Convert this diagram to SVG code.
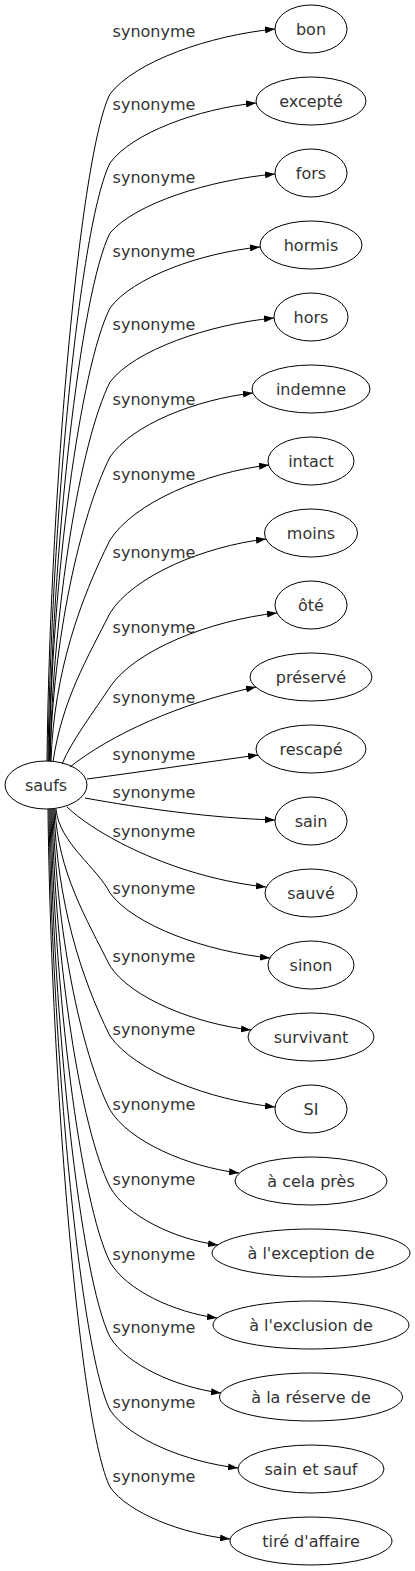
<svg xmlns="http://www.w3.org/2000/svg" width="415" height="1571" viewBox="0 0 415 1571">
<style>
.n ellipse{fill:none;stroke:#000;stroke-width:1}
.n text{font-family:"DejaVu Sans",sans-serif;font-size:16px;fill:#333;text-anchor:middle}
.lb{font-family:"DejaVu Sans",sans-serif;font-size:16px;fill:#333;text-anchor:middle}
#edges path{fill:none;stroke:#000;stroke-width:1;marker-end:url(#ah)}
</style>
<defs>
<marker id="ah" markerWidth="10" markerHeight="7" refX="10" refY="3.5" orient="auto" markerUnits="userSpaceOnUse"><path d="M0,0 L10,3.5 L0,7 z" fill="#000"/></marker>
</defs>
<rect width="415" height="1571" fill="#fff"/>
<g id="edges">
<path d="M47,761 C50,494 80,154 110,94 C135,61.5 209,35.5 275,29"/>
<path d="M48,761 C51,522 80,223 110,163 C132,133 197.6,109 256,103"/>
<path d="M49,761 C52,550 80,293 110,233 C135,203.5 209,180 275,174"/>
<path d="M49,761 C52,580 80,368 110,308 C132.5,277.5 200,253 260,247"/>
<path d="M50,761 C53,609 80,442 110,382 C134.6,350 208.4,324.4 274,318"/>
<path d="M50,761 C53,639 80,517 110,457 C131.5,425 195.8,399.4 253,393"/>
<path d="M51,761 C54,672.6 80,600 110,540 C134,502.5 205.4,472.5 269,465"/>
<path d="M53,762 C62,700 87.6,657.7 110,613 C133.4,576 203.6,546.4 266,539"/>
<path d="M62,764 C72,740 95,710 110,687 C135,650 210,620.4 277,613"/>
<path d="M70,767 C110,735 180,703 256,687"/>
<path d="M87,779 C140,772 200,763 258,755"/>
<path d="M85,798 C140,808 210,818 275,820"/>
<path d="M67,807 C100,838 180,878 266,887"/>
<path d="M56,809 C59,842.6 97.4,867.8 110,893 C134,925.5 206,951.5 270,958"/>
<path d="M55,809 C58,872 86.5,918.9 110,966 C131,998 194.6,1023.6 251,1030"/>
<path d="M54,809 C57,900 80,976 110,1036 C134.75,1071.5 209,1100 275,1107"/>
<path d="M53,809 C56,929 80,1050 110,1110 C129.4,1141.5 187.4,1166.7 239,1173"/>
<path d="M52,809 C55,960 80,1127 110,1187 C126.2,1216 174.8,1239.2 218,1245"/>
<path d="M51,809 C54,990 80,1202 110,1262 C126,1290 174.2,1312.4 217,1318"/>
<path d="M50,809 C53,1020 80,1277 110,1337 C126.7,1365 176.6,1387.4 221,1393"/>
<path d="M49,809 C52,1049 80,1350 110,1410 C129.2,1439 186.8,1462.2 238,1468"/>
<path d="M48,809 C51,1080 80,1427 110,1487 C128,1513 182,1533.8 230,1539"/>
</g>
<g id="labels">
<text class="lb" x="154" y="37">synonyme</text>
<text class="lb" x="154" y="110">synonyme</text>
<text class="lb" x="154" y="183">synonyme</text>
<text class="lb" x="154" y="257">synonyme</text>
<text class="lb" x="154" y="330">synonyme</text>
<text class="lb" x="154" y="405">synonyme</text>
<text class="lb" x="154" y="480">synonyme</text>
<text class="lb" x="154" y="558">synonyme</text>
<text class="lb" x="154" y="633">synonyme</text>
<text class="lb" x="154" y="703">synonyme</text>
<text class="lb" x="154" y="760">synonyme</text>
<text class="lb" x="154" y="798">synonyme</text>
<text class="lb" x="154" y="837">synonyme</text>
<text class="lb" x="154" y="894">synonyme</text>
<text class="lb" x="154" y="962">synonyme</text>
<text class="lb" x="154" y="1035">synonyme</text>
<text class="lb" x="154" y="1110">synonyme</text>
<text class="lb" x="154" y="1185">synonyme</text>
<text class="lb" x="154" y="1260">synonyme</text>
<text class="lb" x="154" y="1333">synonyme</text>
<text class="lb" x="154" y="1408">synonyme</text>
<text class="lb" x="154" y="1482">synonyme</text>
</g>
<g id="saufs" class="n"><ellipse cx="46" cy="785" rx="41" ry="24"/><text x="46" y="791">saufs</text></g>
<g id="bon" class="n"><ellipse cx="311" cy="29" rx="36" ry="24"/><text x="311" y="35">bon</text></g>
<g id="excepte" class="n"><ellipse cx="311" cy="101" rx="55" ry="24"/><text x="311" y="107">excepté</text></g>
<g id="fors" class="n"><ellipse cx="311" cy="173" rx="36" ry="24"/><text x="311" y="179">fors</text></g>
<g id="hormis" class="n"><ellipse cx="311" cy="245" rx="51" ry="24"/><text x="311" y="251">hormis</text></g>
<g id="hors" class="n"><ellipse cx="311" cy="317" rx="37" ry="24"/><text x="311" y="323">hors</text></g>
<g id="indemne" class="n"><ellipse cx="311" cy="389" rx="59" ry="24"/><text x="311" y="395">indemne</text></g>
<g id="intact" class="n"><ellipse cx="311" cy="461" rx="43" ry="24"/><text x="311" y="467">intact</text></g>
<g id="moins" class="n"><ellipse cx="311" cy="533" rx="46.5" ry="24"/><text x="311" y="539">moins</text></g>
<g id="ote" class="n"><ellipse cx="311" cy="605" rx="36" ry="24"/><text x="311" y="611">ôté</text></g>
<g id="preserve" class="n"><ellipse cx="311" cy="677" rx="61" ry="24"/><text x="311" y="683">préservé</text></g>
<g id="rescape" class="n"><ellipse cx="311" cy="749" rx="55" ry="24"/><text x="311" y="755">rescapé</text></g>
<g id="sain" class="n"><ellipse cx="311" cy="821" rx="36" ry="24"/><text x="311" y="827">sain</text></g>
<g id="sauve" class="n"><ellipse cx="311" cy="893" rx="46" ry="24"/><text x="311" y="899">sauvé</text></g>
<g id="sinon" class="n"><ellipse cx="311" cy="965" rx="43" ry="24"/><text x="311" y="971">sinon</text></g>
<g id="survivant" class="n"><ellipse cx="311" cy="1037" rx="63" ry="24"/><text x="311" y="1043">survivant</text></g>
<g id="SI" class="n"><ellipse cx="311" cy="1109" rx="36" ry="24"/><text x="311" y="1115">SI</text></g>
<g id="a_cela_pres" class="n"><ellipse cx="311" cy="1181" rx="76" ry="24"/><text x="311" y="1187">à cela près</text></g>
<g id="a_l_exception_de" class="n"><ellipse cx="311" cy="1253" rx="99" ry="24"/><text x="311" y="1259">à l'exception de</text></g>
<g id="a_l_exclusion_de" class="n"><ellipse cx="311" cy="1325" rx="98" ry="24"/><text x="311" y="1331">à l'exclusion de</text></g>
<g id="a_la_reserve_de" class="n"><ellipse cx="311" cy="1397" rx="91.5" ry="24"/><text x="311" y="1403">à la réserve de</text></g>
<g id="sain_et_sauf" class="n"><ellipse cx="311" cy="1469" rx="73" ry="24"/><text x="311" y="1475">sain et sauf</text></g>
<g id="tire_d_affaire" class="n"><ellipse cx="311" cy="1541" rx="81" ry="24"/><text x="311" y="1547">tiré d'affaire</text></g>
</svg>
